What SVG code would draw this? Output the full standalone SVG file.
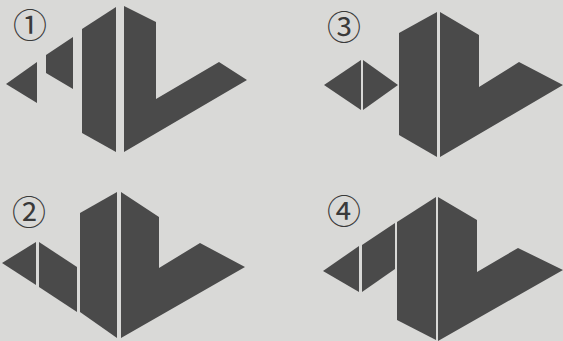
<svg xmlns="http://www.w3.org/2000/svg" width="563" height="341" viewBox="0 0 563 341">
<style>
.bg{fill:#d9d9d7}
.pc{fill:#4a4a4a}
.lbl{font-family:"Noto Sans CJK JP",serif;font-size:34px;fill:#3a3a3a;text-anchor:middle;dominant-baseline:central}
</style>
<rect class="bg" x="0" y="0" width="563" height="341"/>
<g id="panel1">
<text class="lbl" x="30" y="23">①</text>
<polygon class="pc" points="6,84 37,62 37,103"/>
<polygon class="pc" points="46,55 73,37 73,89 46,73"/>
<polygon class="pc" points="82,29 116,7 116,152 82,133"/>
<polygon class="pc" points="124,6 156,22 156,99 219,62 247,80 124,152"/>
</g>
<g id="panel3">
<text class="lbl" x="344" y="25">③</text>
<polygon class="pc" points="324,85 361,60 361,110"/>
<polygon class="pc" points="363,60 398,85 363,110"/>
<polygon class="pc" points="399,33 437,12 437,157 399,135"/>
<polygon class="pc" points="440,12 479,35 479,87 519,62 563,85 440,157"/>
</g>
<g id="panel2">
<text class="lbl" x="29" y="210">②</text>
<polygon class="pc" points="2,263 36,242 36,285"/>
<polygon class="pc" points="39,242 77,267 77,312 39,287"/>
<polygon class="pc" points="80,213 117,192 117,338 80,312"/>
<polygon class="pc" points="121,192 159,217 159,268 200,243 245,267 121,338"/>
</g>
<g id="panel4">
<text class="lbl" x="344" y="209">④</text>
<polygon class="pc" points="323,271 359,246 359,292"/>
<polygon class="pc" points="362,245 395,223 395,269 362,292"/>
<polygon class="pc" points="397,222 436,197 436,340 397,320"/>
<polygon class="pc" points="438,197 477,220 477,272 518,248 563,270 438,341"/>
</g>
<g id="connectors"/>
</svg>
